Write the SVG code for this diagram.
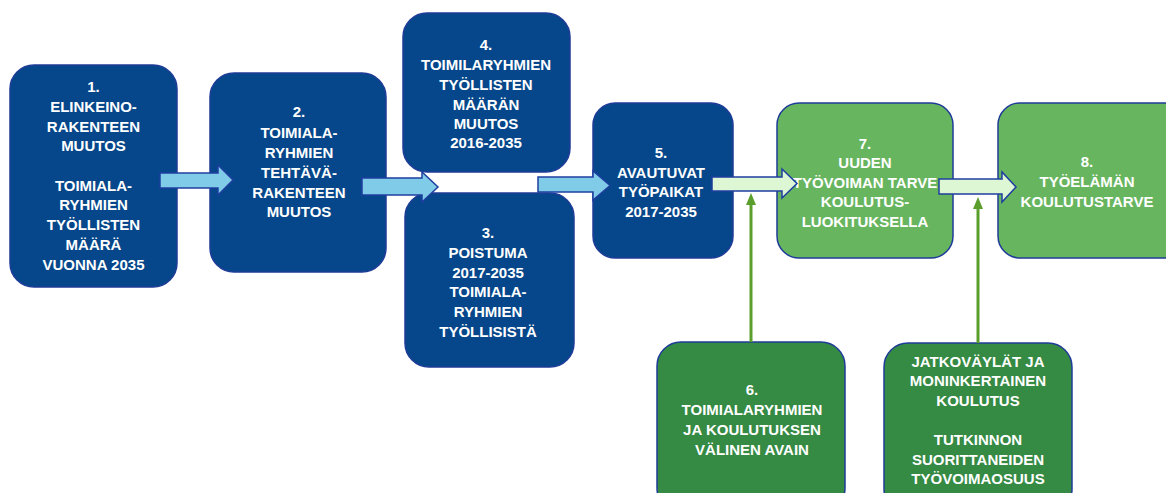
<svg xmlns="http://www.w3.org/2000/svg" width="1166" height="493" viewBox="0 0 1166 493">
<style>
.db{fill:#05478A;stroke:#1F3C98;stroke-width:1.5}
.lg{fill:#68B560;stroke:#1F3C98;stroke-width:1.5}
.dg{fill:#358A44;stroke:#1F3C98;stroke-width:1.5}
.ba{fill:#80CCE8;stroke:#1F3FA0;stroke-width:1.5}
.ga{fill:#DDF6D3;stroke:#1F3FA0;stroke-width:1.5}
.gl{stroke:#5A9E2C;stroke-width:3;fill:none}
.gh{fill:#5A9E2C}
text{font-family:"Liberation Sans",Arial,sans-serif;font-weight:bold;font-size:15px;fill:#FFFFFF;text-anchor:middle}
</style>
<rect x="0" y="0" width="1166" height="493" fill="#FFFFFF"/>
<g id="node1">
<rect class="db" x="10" y="65" width="167" height="222" rx="24"/>
<text x="93.5"><tspan y="92">1.</tspan><tspan x="93.5" y="112">ELINKEINO-</tspan><tspan x="93.5" y="132">RAKENTEEN</tspan><tspan x="93.5" y="151">MUUTOS</tspan><tspan x="93.5" y="191">TOIMIALA-</tspan><tspan x="93.5" y="210">RYHMIEN</tspan><tspan x="93.5" y="230">TYÖLLISTEN</tspan><tspan x="93.5" y="250">MÄÄRÄ</tspan><tspan x="93.5" y="270">VUONNA 2035</tspan></text>
</g>
<g id="node2">
<rect class="db" x="210" y="73" width="176" height="199" rx="24"/>
<text x="299"><tspan y="117">2.</tspan><tspan x="299" y="138">TOIMIALA-</tspan><tspan x="299" y="158">RYHMIEN</tspan><tspan x="299" y="178">TEHTÄVÄ-</tspan><tspan x="299" y="198">RAKENTEEN</tspan><tspan x="299" y="217">MUUTOS</tspan></text>
</g>
<g id="node4">
<rect class="db" x="403" y="13" width="167" height="159" rx="24"/>
<text x="486"><tspan y="50">4.</tspan><tspan x="486" y="70">TOIMILARYHMIEN</tspan><tspan x="486" y="90">TYÖLLISTEN</tspan><tspan x="486" y="110">MÄÄRÄN</tspan><tspan x="486" y="129">MUUTOS</tspan><tspan x="486" y="148">2016-2035</tspan></text>
</g>
<g id="node3">
<rect class="db" x="405" y="193" width="169" height="174" rx="24"/>
<text x="488"><tspan y="238">3.</tspan><tspan x="488" y="258">POISTUMA</tspan><tspan x="488" y="278">2017-2035</tspan><tspan x="488" y="297">TOIMIALA-</tspan><tspan x="488" y="317">RYHMIEN</tspan><tspan x="488" y="337">TYÖLLISISTÄ</tspan></text>
</g>
<g id="node5">
<rect class="db" x="593" y="103" width="140" height="155" rx="22"/>
<text x="661"><tspan y="158">5.</tspan><tspan x="661" y="178">AVAUTUVAT</tspan><tspan x="661" y="197">TYÖPAIKAT</tspan><tspan x="661" y="217">2017-2035</tspan></text>
</g>
<g id="node7">
<rect class="lg" x="777" y="103" width="176" height="155" rx="22"/>
<text x="865"><tspan y="149">7.</tspan><tspan x="865" y="168">UUDEN</tspan><tspan x="865" y="188">TYÖVOIMAN TARVE</tspan><tspan x="865" y="207">KOULUTUS-</tspan><tspan x="865" y="227">LUOKITUKSELLA</tspan></text>
</g>
<g id="node8">
<rect class="lg" x="998" y="103" width="190" height="155" rx="22"/>
<text x="1087"><tspan y="167">8.</tspan><tspan x="1087" y="187">TYÖELÄMÄN</tspan><tspan x="1087" y="207">KOULUTUSTARVE</tspan></text>
</g>
<g id="node6">
<rect class="dg" x="657" y="342" width="188" height="170" rx="24"/>
<text x="752"><tspan y="395">6.</tspan><tspan x="752" y="415">TOIMIALARYHMIEN</tspan><tspan x="752" y="435">JA KOULUTUKSEN</tspan><tspan x="752" y="455">VÄLINEN AVAIN</tspan></text>
</g>
<g id="node9">
<rect class="dg" x="884" y="343" width="188" height="170" rx="24"/>
<text x="978"><tspan y="367">JATKOVÄYLÄT JA</tspan><tspan x="978" y="386">MONINKERTAINEN</tspan><tspan x="978" y="406">KOULUTUS</tspan><tspan x="978" y="445">TUTKINNON</tspan><tspan x="978" y="465">SUORITTANEIDEN</tspan><tspan x="978" y="484">TYÖVOIMAOSUUS</tspan></text>
</g>
<g id="connectors">
<path class="ba" d="M160,173 H218 V165 L233,180 L218,195 V188 H160 Z"/>
<path class="ba" d="M362,178 H422 V172 L438,187 L422,202 V195 H362 Z"/>
<path class="ba" d="M538,177 H593 V171 L610,185.5 L593,200 V192 H538 Z"/>
<path class="ga" d="M712,177 H782 V169 L797,183.5 L782,198 V191 H712 Z"/>
<path class="ga" d="M939,179 H1002 V172 L1016,187 L1002,202 V194 H939 Z"/>
<line class="gl" x1="751" y1="342" x2="751" y2="202"/>
<polygon class="gh" points="746,205 751,193 756,205"/>
<line class="gl" x1="978" y1="343" x2="978" y2="206"/>
<polygon class="gh" points="973,209 978,197 983,209"/>
</g>
</svg>
